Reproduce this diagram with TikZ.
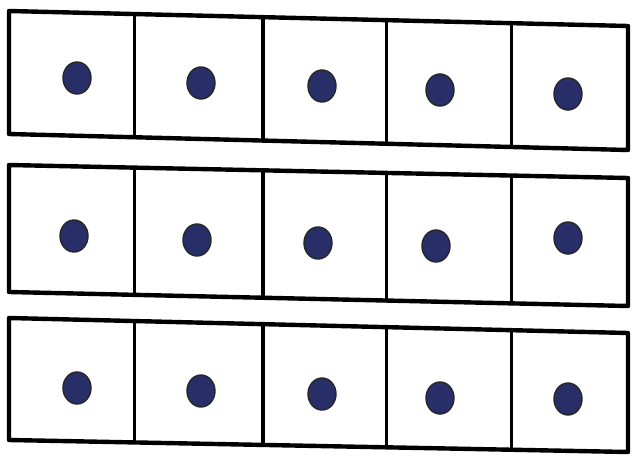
\documentclass[tikz,border=0pt]{standalone}
\usetikzlibrary{calc,shapes.geometric}
\definecolor{dotblue}{RGB}{40,46,104}
\begin{document}
\begin{tikzpicture}[x=1pt,y=-1pt,
  rim/.style={line width=4.4pt,line join=round},
  sep/.style={line width=3.6pt},
  dot/.style={ellipse,fill=dotblue,draw=black!85,line width=1.4pt,minimum width=28pt,minimum height=32pt,inner sep=0pt}
]
\useasboundingbox[fill=white] (0,0) rectangle (633,458);
\foreach \r/\ya/\yb/\yc/\yd in {1/11/26/134/150,2/165/178/292/306,3/318/333/440/452}{
  \coordinate (tl\r) at (9,\ya);
  \coordinate (tr\r) at (628,\yb);
  \coordinate (bl\r) at (9,\yc);
  \coordinate (br\r) at (628,\yd);
  \draw[rim] (tl\r) -- (tr\r) -- (br\r) -- (bl\r) -- cycle;
  \foreach \f in {0.203,0.41,0.61,0.812}
    \draw[sep] ($(tl\r)!\f!(tr\r)$) -- ($(bl\r)!\f!(br\r)$);
}
\foreach \r/\c/\x/\y in {1/1/77/78,1/2/201/83,1/3/322/86,1/4/440/90,1/5/568/94,
  2/1/74/236,2/2/197/240,2/3/318/243,2/4/436/246,2/5/568/238,
  3/1/77/388,3/2/201/391,3/3/322/394,3/4/440/398,3/5/568/399}
  \node[dot] (d\r\c) at (\x,\y) {};
\end{tikzpicture}
\end{document}
